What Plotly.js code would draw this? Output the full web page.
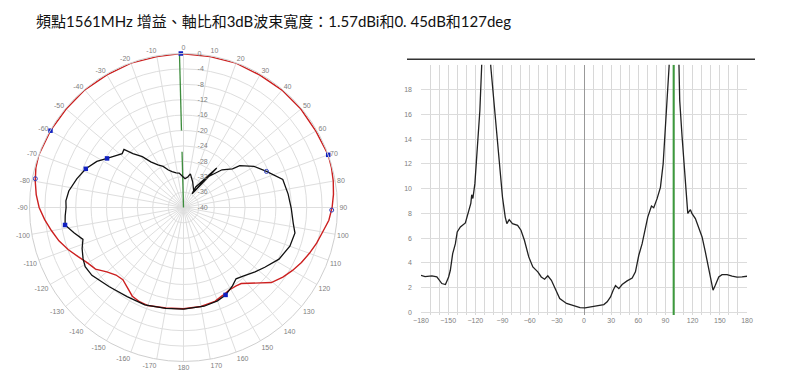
<!DOCTYPE html>
<html>
<head>
<meta charset="utf-8">
<script src="https://cdn.plot.ly/plotly-3.0.1.min.js"></script>
<style>
html,body{margin:0;padding:0;background:#fff;}
#chart{width:800px;height:385px;}
</style>
</head>
<body>
<div id="chart"></div>
<script>
// ---- Title ----
const titleText = "頻點1561MHz 增益、軸比和3dB波束寬度：1.57dBi和0. 45dB和127deg";

// ---- Polar pattern (angle in deg, value in dB) ----
const redTheta = [-180,-170,-160,-155,-150,-145,-140,-135,-130,-125,-120,-115,-110,-105,-100,-95,-90,-85,-80,-75,-70,-60,-50,-40,-30,-20,-10,-1,10,20,30,40,50,60,70,75,80,85,90,95,100,105,110,115,120,125,130.5,142.8,146.1,151,156,161.5,170,180];
const redGain  = [-13.7,-13.5,-12.9,-13.0,-13.4,-14.6,-15.5,-15.2,-14.0,-12.1,-11.2,-9.8,-8.1,-6.5,-5.2,-3.8,-2.5,-1.6,-0.9,-0.3,0,-0.1,-0.2,-0.1,-0.2,-0.1,-0.2,0,-0.2,-0.1,-0.3,-0.2,-0.2,-0.3,0,-0.2,-0.5,-0.9,-1.4,-2.1,-3.3,-4.2,-5.2,-6.2,-7.3,-8.5,-10.0,-15.2,-15.5,-15.5,-15.0,-14.3,-13.9,-13.7];

const blackTheta = [-180,-170,-158.3,-147.7,-136.9,-126.5,-121,-117.1,-112,-107.6,-103,-98.4,-94,-90,-86.7,-81.8,-75,-68.4,-62,-57.3,-52,-48.7,-45.7,-43.2,-39,-35.6,-31,-26.4,-22,-17.6,-12,-7.2,-2,3,8,11.6,20,28,33.8,40.1,30.9,32,38,45.6,51.8,53.4,59.7,66.5,74.2,82.7,90.6,98.2,102.9,110,118.4,126.3,132,139,143.6,148,154.3,160,168.2,180];
const blackGain  = [-13.6,-13.4,-12.8,-12.6,-11.8,-10.4,-10.2,-10.7,-11.6,-12.6,-10.8,-8.9,-9.2,-9.5,-9.4,-9.9,-11.3,-12.7,-14.5,-16.4,-18,-18.8,-18.4,-20.8,-23,-25.4,-27.1,-28.1,-29.5,-30.2,-30.8,-31,-31.9,-32.5,-32,-31.1,-33,-34.5,-35.2,-26.6,-33.8,-35.8,-30,-26,-23.8,-21.8,-18.8,-16.5,-13.2,-12.6,-12,-11.2,-10.3,-10.6,-11.8,-13.8,-15,-16.4,-17,-16,-14.8,-14.2,-13.8,-13.6];

// markers
const markFilledTheta = [-1,-60,70,-68.4,-57.3,-98.4,154.3];
const markFilledGain  = [0,-0.1,0,-12.7,-16.4,-8.9,-14.8];
const markHollowTheta = [-79,91,66.5];
const markHollowGain  = [-0.8,-1.5,-16.5];

// green reference line in polar
const greenTheta = [-1.5,-1.5,null,-1.5,-1.5];
const greenGain  = [0,-20,null,-25.5,-40];

const radTicks = [-40,-36,-32,-28,-24,-20,-16,-12,-8,-4,0];
const radPad = '\u00a0\u00a0\u00a0\u00a0\u00a0\u00a0\u00a0';
const angTickVals = [];
const angTickText = [];
for (let a = 0; a < 360; a += 10) { angTickVals.push(a); angTickText.push(String(a <= 180 ? a : a - 360)); }

// ---- Axial ratio vs angle ----
const arAngle = [-180,-175.5,-168,-162.5,-157,-153,-149.5,-147.6,-145,-142,-140,-136.5,-131,-128,-125,-124,-122.7,-120.5,-118,-115,-113,-108,-103,-100.4,-97.4,-93.7,-90,-87,-85.2,-82.6,-79,-73.3,-69.6,-65.8,-61,-56.5,-51,-47.2,-43.5,-40,-36,-31,-26.8,-19.3,-12,-4.4,1.1,7.2,14.6,21.9,25.6,29.3,32.2,34.8,38.5,42.1,47.6,53.2,56.8,60.5,64.2,67.9,70.4,74.5,77,80.7,84.4,87.4,89.9,92.5,94,99,104.6,105.7,108.3,111.3,114.6,117.5,119.3,123,126.7,130.4,134,137.8,140.3,142.5,145,148.8,152.4,158,163.5,169,174.5,178,180];
const arValue = [3.0,2.9,2.95,2.87,2.34,2.26,2.87,3.41,4.76,5.56,6.5,6.9,7.23,7.98,8.8,9.5,9.2,10.4,13.1,16.3,19.9,40,19.9,17.9,15.0,12.5,9.3,7.7,7.17,7.5,7.17,7.04,6.64,5.83,4.49,3.68,3.28,2.87,2.69,2.96,2.6,1.8,1.13,0.73,0.54,0.40,0.38,0.46,0.51,0.64,0.86,1.26,1.8,2.18,1.93,2.26,2.55,2.79,3.28,4.62,5.56,6.9,7.7,8.6,8.46,9.19,10.1,12.0,15.2,18.2,19.9,40,19.9,17.1,14.2,11.2,8.0,8.3,7.98,7.58,6.9,6.1,4.89,3.41,2.34,1.8,2.2,2.87,3.06,3.06,2.93,2.85,2.87,2.93,2.93];
const arMarkerAngle = [99, 99];
const arMarkerSpan  = [-0.2, 20];
const arYTicks = [0,2,4,6,8,10,12,14,16,18];

const tickFont = {family: 'Liberation Sans, Arial, sans-serif', size: 7, color: '#808080'};

const traces = [
  {type:'scatterpolar', theta: greenTheta, r: greenGain, mode:'lines', line:{color:'#3c8c3c', width:1.3}, connectgaps:false, hoverinfo:'skip'},
  {type:'scatterpolar', theta: redTheta, r: redGain, mode:'lines', line:{color:'#cc2020', width:1.4}},
  {type:'scatterpolar', theta: blackTheta, r: blackGain, mode:'lines', line:{color:'#111', width:1.3}},
  {type:'scatterpolar', theta: markFilledTheta, r: markFilledGain, mode:'markers', marker:{symbol:'square', size:4.5, color:'#1020c0'}},
  {type:'scatterpolar', theta: markHollowTheta, r: markHollowGain, mode:'markers', marker:{symbol:'circle-open', size:4, color:'#3040c0', line:{width:1}}},
  {type:'scatter', x: arAngle, y: arValue, mode:'lines', line:{color:'#222', width:1.3}, xaxis:'x', yaxis:'y', cliponaxis:true},
  {type:'scatter', x: arMarkerAngle, y: arMarkerSpan, mode:'lines', line:{color:'#3c9a3c', width:2}, xaxis:'x', yaxis:'y'}
];

const layout = {
  width: 800, height: 385,
  margin: {l:0, r:0, t:0, b:0},
  paper_bgcolor: '#fff', plot_bgcolor: '#fff',
  showlegend: false,
  title: {text: titleText, x: 36/800, xanchor:'left', y: 1 - 22/385, yanchor:'middle',
          font: {family: 'Lato, "Noto Sans CJK TC", sans-serif', size: 15, color:'#111'}},
  polar: {
    domain: {x: [0.03688, 0.42188], y: [0.06104, 0.86104]},
    bgcolor: '#fff',
    angularaxis: {rotation: 90, direction: 'clockwise', tickmode:'array', tickvals: angTickVals, ticktext: angTickText,
                  showgrid: true, gridcolor: '#dedede', gridwidth: 1, linecolor: '#cfcfcf', linewidth: 1, ticks: '', tickfont: tickFont},
    radialaxis: {range: [-40, 0], tickmode:'array', tickvals: radTicks, ticktext: radTicks.map(v => radPad + String(v)), angle: 90, tickangle: 90,
                 showline: false, gridcolor: '#dedede', gridwidth: 1, ticks: '', tickfont: tickFont, side: 'clockwise'}
  },
  xaxis: {domain: [0.52625, 0.93375], range: [-180, 180], anchor: 'y', tickmode:'linear', tick0: -180, dtick: 30,
          showgrid: true, gridcolor: '#d8d8d8', gridwidth: 1,
          minor: {tickmode:'linear', tick0: -180, dtick: 10, showgrid: true, gridcolor: '#d8d8d8', gridwidth: 1},
          zeroline: true, zerolinecolor: '#999', zerolinewidth: 1, showline: false, ticks: '', tickfont: tickFont},
  yaxis: {domain: [0.18182, 0.83195], range: [-0.2, 20], anchor: 'x', tickmode:'array', tickvals: arYTicks,
          showgrid: true, gridcolor: '#dcdcdc', gridwidth: 1, zeroline: false, showline: false, ticks: '',
          ticklabelstandoff: 8, tickfont: tickFont},
  shapes: [
    {type:'line', xref:'paper', yref:'paper', x0: 407/800, x1: 755/800, y0: 1 - 59.3/385, y1: 1 - 59.3/385, line:{color:'#333', width:1.5}}
  ]
};

Plotly.newPlot('chart', traces, layout, {displayModeBar: false, staticPlot: true});
</script>
</body>
</html>
